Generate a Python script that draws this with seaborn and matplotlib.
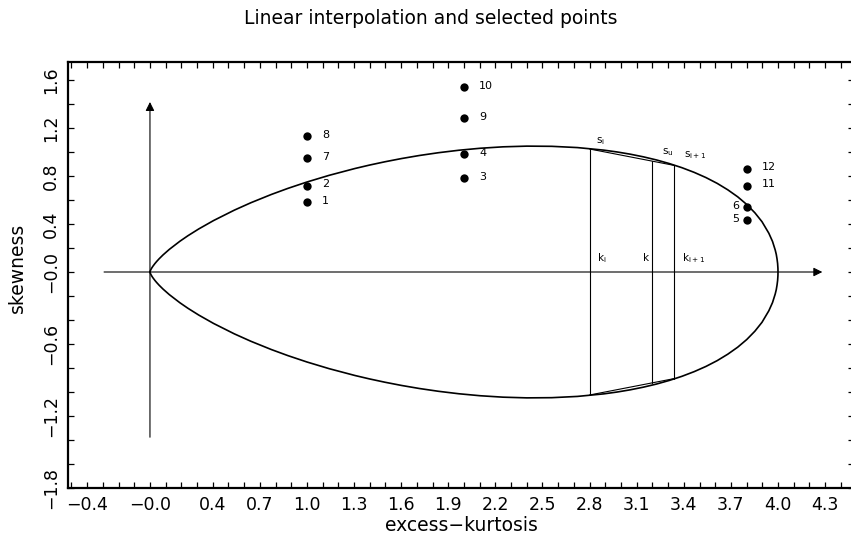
"""Linear interpolation on the skewness / excess-kurtosis boundary, with selected points."""

import matplotlib

matplotlib.use("Agg")
import matplotlib.pyplot as plt
import numpy as np
import pandas as pd
import seaborn as sns

# upper half of the boundary (excess kurtosis, skewness); the lower half is its mirror
BOUNDARY_KURT = [0.0, 0.00009, 0.00045, 0.00144, 0.0035, 0.0073, 0.0112, 0.0181, 0.0312,
                 0.0422, 0.0585, 0.0835, 0.1236, 0.1908, 0.2416, 0.3103, 0.4048, 0.5374,
                 0.6425, 0.7733, 0.8781, 1.0, 1.1416, 1.306, 1.3979, 1.497, 1.6026, 1.716,
                 1.8374, 1.967, 2.1038, 2.249, 2.4007, 2.559, 2.7229, 2.890, 2.9744, 3.059,
                 3.1426, 3.226, 3.3077, 3.388, 3.4659, 3.541, 3.6127, 3.680, 3.7434, 3.801,
                 3.8526, 3.898, 3.9416, 3.965, 3.9822, 3.989, 3.9938, 3.9975, 3.9995, 4.0]
BOUNDARY_SKEW = [0.0, 0.00089, 0.0030, 0.0071, 0.0139, 0.0240, 0.0329, 0.0468, 0.0697,
                 0.0869, 0.1103, 0.1426, 0.1888, 0.2564, 0.3021, 0.3585, 0.4285, 0.5155,
                 0.5771, 0.6463, 0.6966, 0.750, 0.8057, 0.8626, 0.8909, 0.9187, 0.9455, 0.9709,
                 0.9941, 1.0146, 1.0312, 1.0431, 1.0489, 1.0473, 1.0368, 1.0156, 1.0004, 0.9818,
                 0.9597, 0.9337, 0.9036, 0.8693, 0.8304, 0.787, 0.7385, 0.685, 0.6264, 0.5626,
                 0.4935, 0.4192, 0.3230, 0.2549, 0.1835, 0.1466, 0.1090, 0.0707, 0.0316, 0.0]

# selected points
POINT_ID = [1, 2, 7, 8, 3, 4, 9, 10, 5, 6, 11, 12]
POINT_KURT = [1.0, 1.0, 1.0, 1.0, 2.0, 2.0, 2.0, 2.0, 3.8, 3.8, 3.8, 3.8]
POINT_SKEW = [0.58, 0.72, 0.95, 1.13, 0.78, 0.98, 1.28, 1.54, 0.43, 0.54, 0.72, 0.86]
LABEL_LEFT = [5, 6]

# interpolation example: nodes k_i, k_{i+1} and target k
K_I, K_U, K_I1 = 2.80, 3.20, 3.34
S_I, S_U, S_I1 = 1.025, 0.923, 0.888

# coordinate-axis arrows
ARROW_X = [-0.31, 4.30]
ARROW_Y = [-1.40, 1.44]

X_TICK_VALUES = [-0.4, 0.0, 0.4, 0.7, 1.0, 1.3, 1.6, 1.9, 2.2, 2.5, 2.8, 3.1, 3.4, 3.7, 4.0, 4.3]
X_TICK_LABELS = ["\u22120.4", "\u22120.0", "0.4", "0.7", "1.0", "1.3", "1.6", "1.9", "2.2",
                 "2.5", "2.8", "3.1", "3.4", "3.7", "4.0", "4.3"]
Y_TICK_VALUES = [1.6, 1.2, 0.8, 0.4, 0.0, -0.6, -1.2, -1.8]
Y_TICK_LABELS = ["1.6", "1.2", "0.8", "0.4", "\u22120.0", "\u22120.6", "\u22121.2", "\u22121.8"]


def main() -> None:
    sns.set_theme(style="ticks")
    plt.rcParams["font.family"] = ["DejaVu Sans"]
    plt.rcParams["mathtext.default"] = "regular"
    for key in ("text.color", "axes.labelcolor", "xtick.color", "ytick.color"):
        plt.rcParams[key] = "black"

    fig = plt.figure(figsize=(8.51, 5.44), dpi=100)
    ax = fig.add_axes([68 / 851, 56 / 544, 786 / 851, 426 / 544])

    boundary = pd.DataFrame({
        "kurt": BOUNDARY_KURT + BOUNDARY_KURT[::-1],
        "skew": BOUNDARY_SKEW + [-s for s in BOUNDARY_SKEW[::-1]],
    })
    sns.lineplot(data=boundary, x="kurt", y="skew", sort=False, estimator=None,
                 color="black", lw=1.2, ax=ax)

    # interpolation construction
    for k, s in [(K_I, S_I), (K_U, S_U), (K_I1, S_I1)]:
        ax.plot([k, k], [s, -s], color="black", lw=0.8)
    ax.plot([K_I, K_I1], [S_I, S_I1], color="black", lw=0.8)
    ax.plot([K_I, K_I1], [-S_I, -S_I1], color="black", lw=0.8)

    small = dict(fontsize=7.5, color="black")
    ax.text(K_I + 0.04, S_I + 0.07, "s$_i$", ha="left", va="center", **small)
    ax.text(K_U + 0.06, S_U + 0.08, "s$_u$", ha="left", va="center", **small)
    ax.text(K_I1 + 0.06, S_I1 + 0.09, "s$_{i+1}$", ha="left", va="center", **small)
    ax.text(K_I + 0.05, 0.12, "k$_i$", ha="left", va="center", **small)
    ax.text(K_U - 0.02, 0.12, "k", ha="right", va="center", **small)
    ax.text(K_I1 + 0.05, 0.12, "k$_{i+1}$", ha="left", va="center", **small)

    # axis arrows through the origin
    arrow = dict(arrowstyle="-|>", color="black", lw=0.8, mutation_scale=13)
    ax.annotate("", xy=(ARROW_X[1], 0.0), xytext=(ARROW_X[0], 0.0), arrowprops=arrow)
    ax.annotate("", xy=(0.0, ARROW_Y[1]), xytext=(0.0, ARROW_Y[0]), arrowprops=arrow)

    sns.scatterplot(x=POINT_KURT, y=POINT_SKEW, color="black", s=36, linewidth=0, ax=ax)
    for pid, k, s in zip(POINT_ID, POINT_KURT, POINT_SKEW):
        if pid in LABEL_LEFT:
            ax.annotate(str(pid), (k, s), xytext=(-5, 1), textcoords="offset points",
                        ha="right", va="center", fontsize=8)
        else:
            ax.annotate(str(pid), (k, s), xytext=(11, 1), textcoords="offset points",
                        ha="left", va="center", fontsize=8)

    ax.set_xlim(-0.522, 4.484)
    ax.set_ylim(-1.80, 1.75)
    ax.set_xticks(X_TICK_VALUES)
    ax.set_xticklabels(X_TICK_LABELS)
    ax.set_yticks(Y_TICK_VALUES)
    ax.set_yticklabels(Y_TICK_LABELS, rotation=90, va="center")
    ax.set_xticks(np.arange(-0.5, 4.45, 0.1), minor=True)
    ax.set_yticks(np.arange(-1.8, 1.75, 0.2), minor=True)
    for which in ("major", "minor"):
        ax.tick_params(axis="both", which=which, direction="in", length=4, width=0.9,
                       top=True, right=True, color="black")
    ax.tick_params(axis="both", which="major", labelsize=12.5, pad=6)
    for spine in ax.spines.values():
        spine.set_linewidth(1.6)
        spine.set_color("black")

    ax.set_xlabel("excess\u2212kurtosis", fontsize=13.5)
    ax.xaxis.set_label_coords(0.5, -0.087)
    ax.xaxis.label.set_verticalalignment("center")
    ax.set_ylabel("skewness", fontsize=13.5)
    ax.yaxis.set_label_coords(-0.064, 0.516)
    ax.yaxis.label.set_verticalalignment("center")

    fig.suptitle("Linear interpolation and selected points", x=431 / 851, y=1 - 18 / 544,
                 va="center", fontsize=13.5)

    fig.savefig("out.png", dpi=100)
    plt.close(fig)


if __name__ == "__main__":
    main()
